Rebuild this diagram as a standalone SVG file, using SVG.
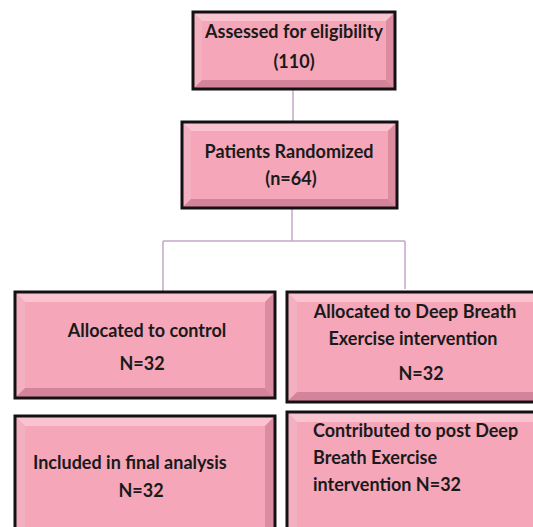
<svg xmlns="http://www.w3.org/2000/svg" width="533" height="527" viewBox="0 0 533 527">
<style>
.face{fill:#F5A6B9}
.top{fill:#F9C4D0}
.left{fill:#F3B0C0}
.right{fill:#DB8CA0}
.bot{fill:#D4849A}
.border{fill:none;stroke:#141014;stroke-width:3}
.t{font-family:Lato,"Liberation Sans",Arial,sans-serif;font-weight:bold;font-size:18px;fill:#1a1a1a}
.c{text-anchor:middle}
.conn{stroke:#C4A6C8;stroke-width:1.5;fill:none}
</style>
<rect width="533" height="527" fill="#ffffff"/>
<g id="connectors">
<line class="conn" x1="293" y1="89" x2="293" y2="122"/>
<line class="conn" x1="292" y1="208" x2="292" y2="241"/>
<line class="conn" x1="163" y1="241" x2="405" y2="241"/>
<line class="conn" x1="163" y1="241" x2="163" y2="292"/>
<line class="conn" x1="405" y1="241" x2="405" y2="289"/>
</g>
<g id="assessed">
<rect class="face" x="193" y="12" width="202" height="77"/>
<polygon class="top" points="193,12 395,12 386,21 202,21"/>
<polygon class="left" points="193,12 202,21 202,80 193,89"/>
<polygon class="right" points="395,12 395,89 386,80 386,21"/>
<polygon class="bot" points="193,89 202,80 386,80 395,89"/>
<rect class="border" x="193" y="12" width="202" height="77"/>
<text class="t c" x="294" y="38">Assessed for eligibility</text>
<text class="t c" x="294" y="68">(110)</text>
</g>
<g id="randomized">
<rect class="face" x="182" y="122" width="215" height="86"/>
<polygon class="top" points="182,122 397,122 388,131 191,131"/>
<polygon class="left" points="182,122 191,131 191,199 182,208"/>
<polygon class="right" points="397,122 397,208 388,199 388,131"/>
<polygon class="bot" points="182,208 191,199 388,199 397,208"/>
<rect class="border" x="182" y="122" width="215" height="86"/>
<text class="t c" x="289" y="158">Patients Randomized</text>
<text class="t c" x="291" y="185">(n=64)</text>
</g>
<g id="control">
<rect class="face" x="15" y="292" width="260" height="106"/>
<polygon class="top" points="15,292 275,292 265,302 25,302"/>
<polygon class="left" points="15,292 25,302 25,388 15,398"/>
<polygon class="right" points="275,292 275,398 265,388 265,302"/>
<polygon class="bot" points="15,398 25,388 265,388 275,398"/>
<rect class="border" x="15" y="292" width="260" height="106"/>
<text class="t c" x="147" y="337">Allocated to control</text>
<text class="t c" x="142" y="370">N=32</text>
</g>
<g id="intervention">
<rect class="face" x="287" y="292" width="262" height="110"/>
<polygon class="top" points="287,292 549,292 539,302 297,302"/>
<polygon class="left" points="287,292 297,302 297,392 287,402"/>
<polygon class="right" points="549,292 549,402 539,392 539,302"/>
<polygon class="bot" points="287,402 297,392 539,392 549,402"/>
<rect class="border" x="287" y="292" width="262" height="110"/>
<text class="t c" x="415" y="318">Allocated to Deep Breath</text>
<text class="t c" x="413" y="345">Exercise intervention</text>
<text class="t c" x="421" y="380">N=32</text>
</g>
<g id="analysis">
<rect class="face" x="15" y="416" width="260" height="130"/>
<polygon class="top" points="15,416 275,416 265,426 25,426"/>
<polygon class="left" points="15,416 25,426 25,536 15,546"/>
<polygon class="right" points="275,416 275,546 265,536 265,426"/>
<rect class="border" x="15" y="416" width="260" height="130"/>
<text class="t" x="33" y="469">Included in final analysis</text>
<text class="t c" x="141" y="497">N=32</text>
</g>
<g id="post">
<rect class="face" x="287" y="412" width="262" height="130"/>
<polygon class="top" points="287,412 549,412 539,422 297,422"/>
<polygon class="left" points="287,412 297,422 297,532 287,542"/>
<rect class="border" x="287" y="412" width="262" height="130"/>
<text class="t" x="313" y="437">Contributed to post Deep</text>
<text class="t" x="313" y="464">Breath Exercise</text>
<text class="t" x="313" y="491">intervention N=32</text>
</g>
</svg>
